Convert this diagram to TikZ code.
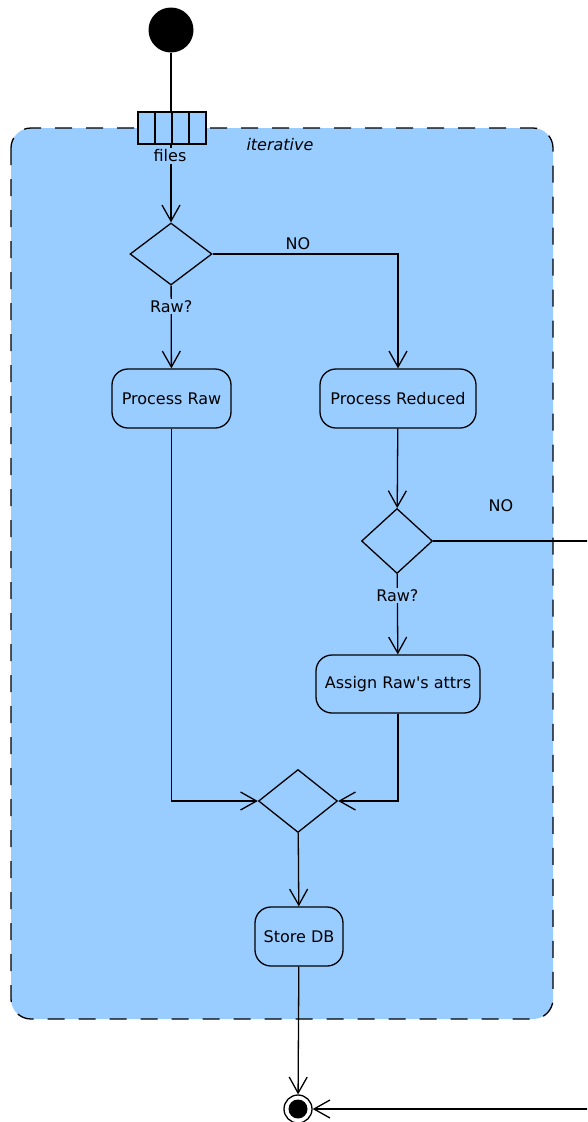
\documentclass[tikz,border=0pt]{standalone}
\usepackage{fontspec}
\setmainfont{DejaVu Sans}
\usetikzlibrary{arrows.meta,shapes.geometric}
\definecolor{regionblue}{HTML}{99CCFF}
\begin{document}
\begin{tikzpicture}[x=1pt,y=-1pt,
  line width=1.3pt,
  every node/.style={font=\fontsize{16}{19}\selectfont},
  arr/.style={-{Straight Barb[length=16pt,width=18pt]}},
  action/.style={draw, rectangle, rounded corners=16pt, fill=regionblue, inner sep=0pt},
  decision/.style={draw, diamond, fill=regionblue, inner sep=0pt},
  lbl/.style={fill=regionblue, inner sep=1.5pt},
  pincell/.style={draw, rectangle, fill=regionblue, minimum width=17pt, minimum height=32pt, inner sep=0pt}]
\clip (0,0) rectangle (587,1122);

% expansion region
\draw[fill=regionblue, rounded corners=20pt, dash pattern=on 17pt off 14pt] (11,128) rectangle (553,1019);
\node[font=\fontsize{16}{19}\selectfont\itshape] (iter) at (280,145) {iterative};

% initial node
\node[circle, fill=black, minimum size=45pt, inner sep=0pt] (start) at (171,30) {};

% decisions
\node[decision, minimum width=82pt, minimum height=62pt] (d1) at (171,254) {};
\node[decision, minimum width=71pt, minimum height=65pt] (d2) at (397,541) {};
\node[decision, minimum width=79pt, minimum height=63pt] (d3) at (298,801) {};

% actions
\node[action, minimum width=119pt, minimum height=59pt] (praw) at (171.5,398.5) {Process Raw};
\node[action, minimum width=156pt, minimum height=59pt] (pred) at (398,398.5) {Process Reduced};
\node[action, minimum width=164pt, minimum height=58pt] (assign) at (398,684) {Assign Raw\textquotesingle s attrs};
\node[action, minimum width=88pt, minimum height=59pt] (store) at (299,936.5) {Store DB};

% final node
\node[circle, draw, fill=white, minimum size=28pt, inner sep=0pt] (final) at (298,1109) {};
\node[circle, fill=black, minimum size=19pt, inner sep=0pt] (finaldot) at (298,1109) {};

% flow
\draw[arr] (start) -- (d1);
\foreach \i/\x in {1/146.5,2/163.5,3/180.5,4/197.5}
  \node[pincell] (pin\i) at (\x,128) {};
\node[lbl] (files) at (170,156) {files};

\draw[arr] (d1) -- node[lbl, pos=0.25] (raw1) {Raw?} (praw);
\coordinate (c1) at (398,254);
\draw[arr] (d1.east) -- (c1) -- (pred);
\node (no1) at (298,244) {NO};

\draw[arr] (pred) -- (d2);
\draw[arr] (d2) -- node[lbl, pos=0.27] (raw2) {Raw?} (assign);
\node (no2) at (501,506) {NO};

\draw[arr] (praw.south) |- (d3.west);
\draw[arr] (assign.south) |- (d3.east);
\draw[arr] (d3) -- (store);
\draw[arr] (store) -- (final);

\coordinate (r1) at (600,541);
\coordinate (r2) at (600,1109);
\draw[arr] (d2.east) -- (r1) -- (r2) -- (final);
\end{tikzpicture}
\end{document}
